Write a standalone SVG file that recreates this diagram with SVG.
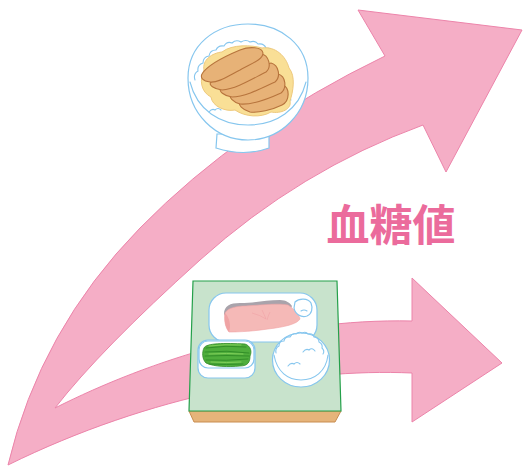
<svg xmlns="http://www.w3.org/2000/svg" width="524" height="467" viewBox="0 0 524 467">
  <style>
    .arrow { fill: #f5aec6; stroke: #ec84aa; stroke-width: 1; stroke-linejoin: miter; }
    .dish { fill: #ffffff; stroke: #86c6ee; stroke-width: 1.2; }
    .wave { fill: none; stroke: #86c6ee; stroke-width: 1.1; stroke-linecap: round; }
    .katsu { fill: #e7b277; stroke: #b7743d; stroke-width: 1.1; stroke-linejoin: round; }
    .bean { fill: none; stroke: #2f8a26; stroke-width: 0.9; stroke-linecap: round; }
    .beanlight { fill: none; stroke: #86d35c; stroke-width: 0.9; stroke-linecap: round; }
    .label { font-family: "Noto Sans CJK JP", "Noto Sans CJK SC", sans-serif; font-weight: 700; font-size: 43px; fill: #eb6b9c; }
  </style>

  <!-- connectors: rising and flat arrows sharing a tail -->
  <g id="connectors">
    <path class="arrow" d="M8,465 Q40,330 140,228 Q240,126 385,56 L358,10 L522,30 L446,172 L423,125 Q300,170 200,260 Q100,350 55,408 C150,360 280,318 412,321 L412,278 L502,363 L412,422 L412,373 C300,368 150,395 8,465 Z"/>
  </g>

  <!-- bowl of katsudon -->
  <g id="katsudon">
    <path class="dish" d="M217,134 L216,148 Q244,157 269,148 L269,134 Z"/>
    <path class="dish" d="M188,78 C188,45 215,24 248,24 C281,24 308,45 308,78 C308,114 280,140 248,140 C216,140 188,114 188,78 Z"/>
    <path class="wave" d="M190,82 C197,110 220,125 248,125 C276,125 299,110 306,82"/>
    <!-- rice top -->
    <path class="wave" d="M195,80 q-2,-6 3,-9 q-1,-6 5,-8 q0,-6 6,-7 q1,-6 7,-6 q2,-5 8,-4 q3,-5 8,-3 q4,-4 9,-1 q5,-3 9,0 q5,-2 8,2 q6,-1 8,4 q6,0 7,5 q6,1 6,7 q5,2 4,8 q4,3 2,8"/>
    <path class="wave" d="M209,112 q3,-4 6,-2 q3,-3 6,0"/>
    <path class="wave" d="M285,102 q3,-4 6,-2"/>
    <!-- egg -->
    <path d="M204,70 C202,60 212,53 222,52 C232,44 252,45 262,48 C275,46 286,56 289,68 C296,76 293,92 290,101 C292,109 281,114 271,112 C261,118 245,117 235,110 C225,112 212,106 211,97 C201,92 199,80 204,70 Z" fill="#f9df96" stroke="#eec97c" stroke-width="1"/>
    <!-- cutlet slices, back to front -->
    <path class="katsu" d="M240,100 C255,92 272,85 283,85 C290,88 290,101 282,105 C272,110 258,113 250,112 C243,110 237,105 240,100 Z"/>
    <path class="katsu" d="M231,94 C247,86 265,76 278,74 C286,76 287,88 281,93 C268,99 252,105 240,104 C233,102 228,97 231,94 Z"/>
    <path class="katsu" d="M221,88 C239,79 257,67 271,63 C279,65 281,77 275,82 C262,88 245,97 232,97 C224,96 218,91 221,88 Z"/>
    <path class="katsu" d="M211,82 C229,72 247,59 261,54 C269,55 272,67 266,72 C252,79 236,89 222,90 C214,89 208,85 211,82 Z"/>
    <path class="katsu" d="M202,74 C208,64 228,55 240,50 C250,46 262,47 263,53 C263,60 250,64 240,70 C228,76 218,83 210,82 C203,81 200,78 202,74 Z"/>
  </g>

  <text class="label" x="391" y="241" text-anchor="middle">血糖値</text>

  <!-- balanced set meal tray -->
  <g id="teishoku">
    <polygon points="189,411 341,411 335,422 194,422" fill="#e6b47a" stroke="#c98d50" stroke-width="1"/>
    <polygon points="193,281 337,281 341,411 189,411" fill="#c8e3cc" stroke="#24a04a" stroke-width="1.2"/>

    <!-- grilled fish plate -->
    <rect class="dish" x="209" y="293" width="108" height="49" rx="17"/>
    <path d="M224,314 C224,306 230,303 240,303 C255,303 265,300 280,300 C286,300 290,303 292,306 L290,310 L226,318 Z" fill="#a9a3ab"/>
    <path d="M225,313 C228,308 236,306 246,306 C262,305 278,303 288,305 C294,309 299,314 300,319 C297,324 285,327 268,329 C255,331 240,332 229,332 C225,327 224,320 225,313 Z" fill="#f5b9b7" stroke="#f0a4a6" stroke-width="0.6"/>
    <path d="M225,313 C230,318 231,326 229,332 C225,327 224,320 225,313 Z" fill="#efa3a4"/>
    <path d="M252,313 q8,2 14,6 M262,310 q2,4 4,9 M270,312 q-2,4 -3,8" fill="none" stroke="#ee9fa3" stroke-width="0.5"/>
    <path class="dish" d="M295,302 C299,298 308,298 311,303 C313,308 312,314 307,316 C301,318 295,314 294,308 Z"/>
    <path class="wave" d="M301,311 q3,-2 6,0"/>

    <!-- green beans -->
    <rect class="dish" x="198" y="340" width="57" height="38" rx="10"/>
    <rect class="dish" x="199" y="341" width="55" height="27" rx="9"/>
    <path d="M204,348 C206,343 225,343 245,344 C251,346 252,352 250,356 C250,362 248,366 240,366 C228,367 215,367 206,363 C202,359 202,352 204,348 Z" fill="#4fae3c" stroke="#2f8a26" stroke-width="0.8"/>
    <path class="bean" d="M206,348 q20,-3 40,-1 M205,352 q22,-2 44,1 M205,356 q22,-1 44,0 M206,360 q20,1 42,-1 M209,364 q18,1 34,0"/>
    <path class="beanlight" d="M209,346 q16,-2 32,-1 M209,354 q18,-1 34,0 M211,362 q16,1 30,0"/>

    <!-- rice bowl -->
    <ellipse class="dish" cx="301" cy="360" rx="28.5" ry="27"/>
    <path class="wave" d="M274,355 C277,372 288,380 301,380 C314,380 326,372 328,355"/>
    <path class="wave" d="M276,353 q-1,-5 3,-7 q0,-5 5,-5 q1,-5 6,-4 q2,-4 6,-3 q3,-3 6,-1 q4,-2 6,1 q5,-1 6,3 q5,1 5,5 q4,2 3,6 q3,3 1,6"/>
    <path class="wave" d="M288,366 q3,-4 6,-2 q3,-3 6,0"/>
    <path class="wave" d="M303,352 q3,-4 6,-2 q3,-3 6,1"/>
  </g>
</svg>
